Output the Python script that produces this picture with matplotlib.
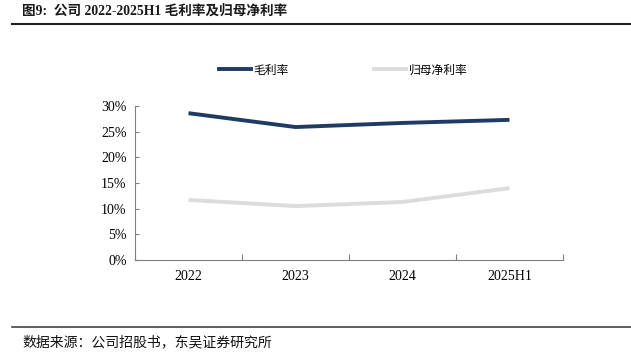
import matplotlib.pyplot as plt
from matplotlib.lines import Line2D
from matplotlib.ticker import FuncFormatter

plt.rcParams['font.family'] = ['Liberation Serif', 'Noto Sans CJK SC']

years = ['2022', '2023', '2024', '2025H1']
gross_margin = [28.6, 25.9, 26.7, 27.3]
net_margin = [11.7, 10.5, 11.3, 14.0]
series_names = ['毛利率', '归母净利率']

title = '图9:  公司 2022-2025H1 毛利率及归母净利率'
source = '数据来源：公司招股书，东吴证券研究所'

fig = plt.figure(figsize=(6.31, 3.58), dpi=100)
ax = fig.add_axes([135 / 631, 1 - 260 / 358, (563 - 135) / 631, 154 / 358])

x = range(len(years))
ax.plot(x, gross_margin, color='#1F3B64', lw=2.8, solid_capstyle='butt')
ax.plot(x, net_margin, color='#DCDCDC', lw=2.8, solid_capstyle='butt')

ax.set_xlim(-0.5, len(years) - 0.5)
ax.set_ylim(0, 30)
ax.set_yticks(range(0, 31, 5))
ax.yaxis.set_major_formatter(FuncFormatter(lambda v, p: f'{v:.0f}%'))
ax.set_xticks([i + 0.5 for i in range(-1, len(years))])
ax.set_xticklabels([])
ax.set_xticks(list(x), minor=True)
ax.set_xticklabels(years, minor=True)
ax.tick_params(axis='x', which='major', direction='in', length=4, color='#808080')
ax.tick_params(axis='x', which='minor', length=0, labelsize=10, pad=7)
ax.tick_params(axis='y', direction='in', length=3, color='#808080', labelsize=10, pad=6)
for s in ['top', 'right']:
    ax.spines[s].set_visible(False)
for s in ['left', 'bottom']:
    ax.spines[s].set_color('#808080')
    ax.spines[s].set_linewidth(0.8)

handles = [Line2D([], [], color='#1F3B64', lw=2.8),
           Line2D([], [], color='#DCDCDC', lw=2.8)]
fig.legend(handles, series_names, loc='center', bbox_to_anchor=(343 / 631, 1 - 70 / 358),
           ncol=2, frameon=False, handlelength=2.7, handletextpad=0.25,
           columnspacing=7.2, prop={'family': ['Noto Sans CJK SC'], 'size': 8.5})

fig.text(22 / 631, 1 - 11 / 358, title, fontsize=9.8, fontweight='bold', va='center', ha='left',
         color='#1a1a1a')
fig.add_artist(Line2D([12 / 631, 1], [1 - 24 / 358] * 2, color='#222222', lw=1.5))
fig.add_artist(Line2D([12 / 631, 1], [1 - 327 / 358] * 2, color='#444444', lw=1.2))
fig.text(22 / 631, 1 - 342 / 358, source, fontsize=10, va='center', ha='left',
         family=['Noto Sans CJK SC'], color='#111111')

fig.savefig('out.png', dpi=100)
